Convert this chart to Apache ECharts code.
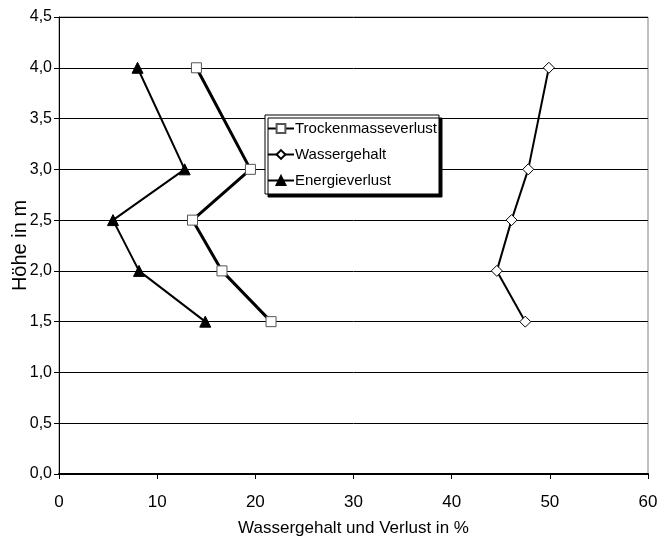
<!DOCTYPE html>
<html>
<head>
<meta charset="utf-8">
<script src="https://cdn.jsdelivr.net/npm/echarts@6/dist/echarts.min.js"></script>
<style>html,body{margin:0;padding:0;background:#fff}#c{width:657px;height:538px}</style>
</head>
<body>
<div id="c"></div>
<script>
const heights = [4.0, 3.0, 2.5, 2.0, 1.5];
const trockenmasseverlust = [14.0, 19.5, 13.6, 16.6, 21.6];
const wassergehalt = [49.9, 47.8, 46.1, 44.6, 47.5];
const energieverlust = [8.0, 12.8, 5.5, 8.15, 14.9];
const seriesNames = ['Trockenmasseverlust', 'Wassergehalt', 'Energieverlust'];

const font = 'Liberation Sans, Arial, sans-serif';
const pairs = arr => arr.map((v, i) => [v, heights[i]]);

const chart = echarts.init(document.getElementById('c'));
chart.setOption({
  animation: false,
  backgroundColor: '#fff',
  grid: { left: 59, right: 9, top: 17, bottom: 64, containLabel: false, outerBoundsMode: 'none',
    show: true, borderColor: '#808080', borderWidth: 1 },
  legend: {
    orient: 'vertical',
    left: 265, top: 115,
    data: seriesNames,
    backgroundColor: '#fff',
    borderColor: '#000', borderWidth: 1,
    shadowColor: '#000', shadowBlur: 0, shadowOffsetX: 3, shadowOffsetY: 3,
    padding: [6, 2, 6, 2],
    itemGap: 11,
    itemWidth: 26, itemHeight: 11,
    textStyle: { fontFamily: font, fontSize: 15, color: '#000', padding: [0, 0, 0, -4] }
  },
  xAxis: {
    type: 'value', min: 0, max: 60, interval: 10,
    name: 'Wassergehalt und Verlust in %', nameLocation: 'middle', nameGap: 46, nameMoveOverlap: false,
    nameTextStyle: { fontFamily: font, fontSize: 17, color: '#000' },
    axisLine: { show: true, lineStyle: { color: '#000', width: 2 } },
    axisTick: { show: true, length: 5, lineStyle: { color: '#000' } },
    axisLabel: { fontFamily: font, fontSize: 17, color: '#000', margin: 20 },
    splitLine: { show: false }
  },
  yAxis: {
    type: 'value', min: 0, max: 4.5, interval: 0.5,
    name: 'Höhe in m', nameLocation: 'middle', nameGap: 29, nameMoveOverlap: false,
    nameTextStyle: { fontFamily: font, fontSize: 20, color: '#000' },
    axisLine: { show: true, lineStyle: { color: '#000', width: 1 } },
    axisTick: { show: true, length: 5, lineStyle: { color: '#000' } },
    axisLabel: { fontFamily: font, fontSize: 16, color: '#000', margin: 7,
      formatter: v => v.toFixed(1).replace('.', ',') },
    splitLine: { show: true, lineStyle: { color: '#000', width: 1 } }
  },
  series: [
    { name: seriesNames[0], type: 'line', data: pairs(trockenmasseverlust),
      symbol: 'rect', symbolSize: 10,
      lineStyle: { color: '#000', width: 3 },
      itemStyle: { color: '#fff', borderColor: '#555', borderWidth: 1 } },
    { name: seriesNames[1], type: 'line', data: pairs(wassergehalt),
      symbol: 'diamond', symbolSize: 11,
      lineStyle: { color: '#000', width: 2 },
      itemStyle: { color: '#fff', borderColor: '#000', borderWidth: 1 } },
    { name: seriesNames[2], type: 'line', data: pairs(energieverlust),
      symbol: 'triangle', symbolSize: 11,
      lineStyle: { color: '#000', width: 2 },
      itemStyle: { color: '#000', borderColor: '#000', borderWidth: 1 } }
  ]
});
</script>
</body>
</html>
